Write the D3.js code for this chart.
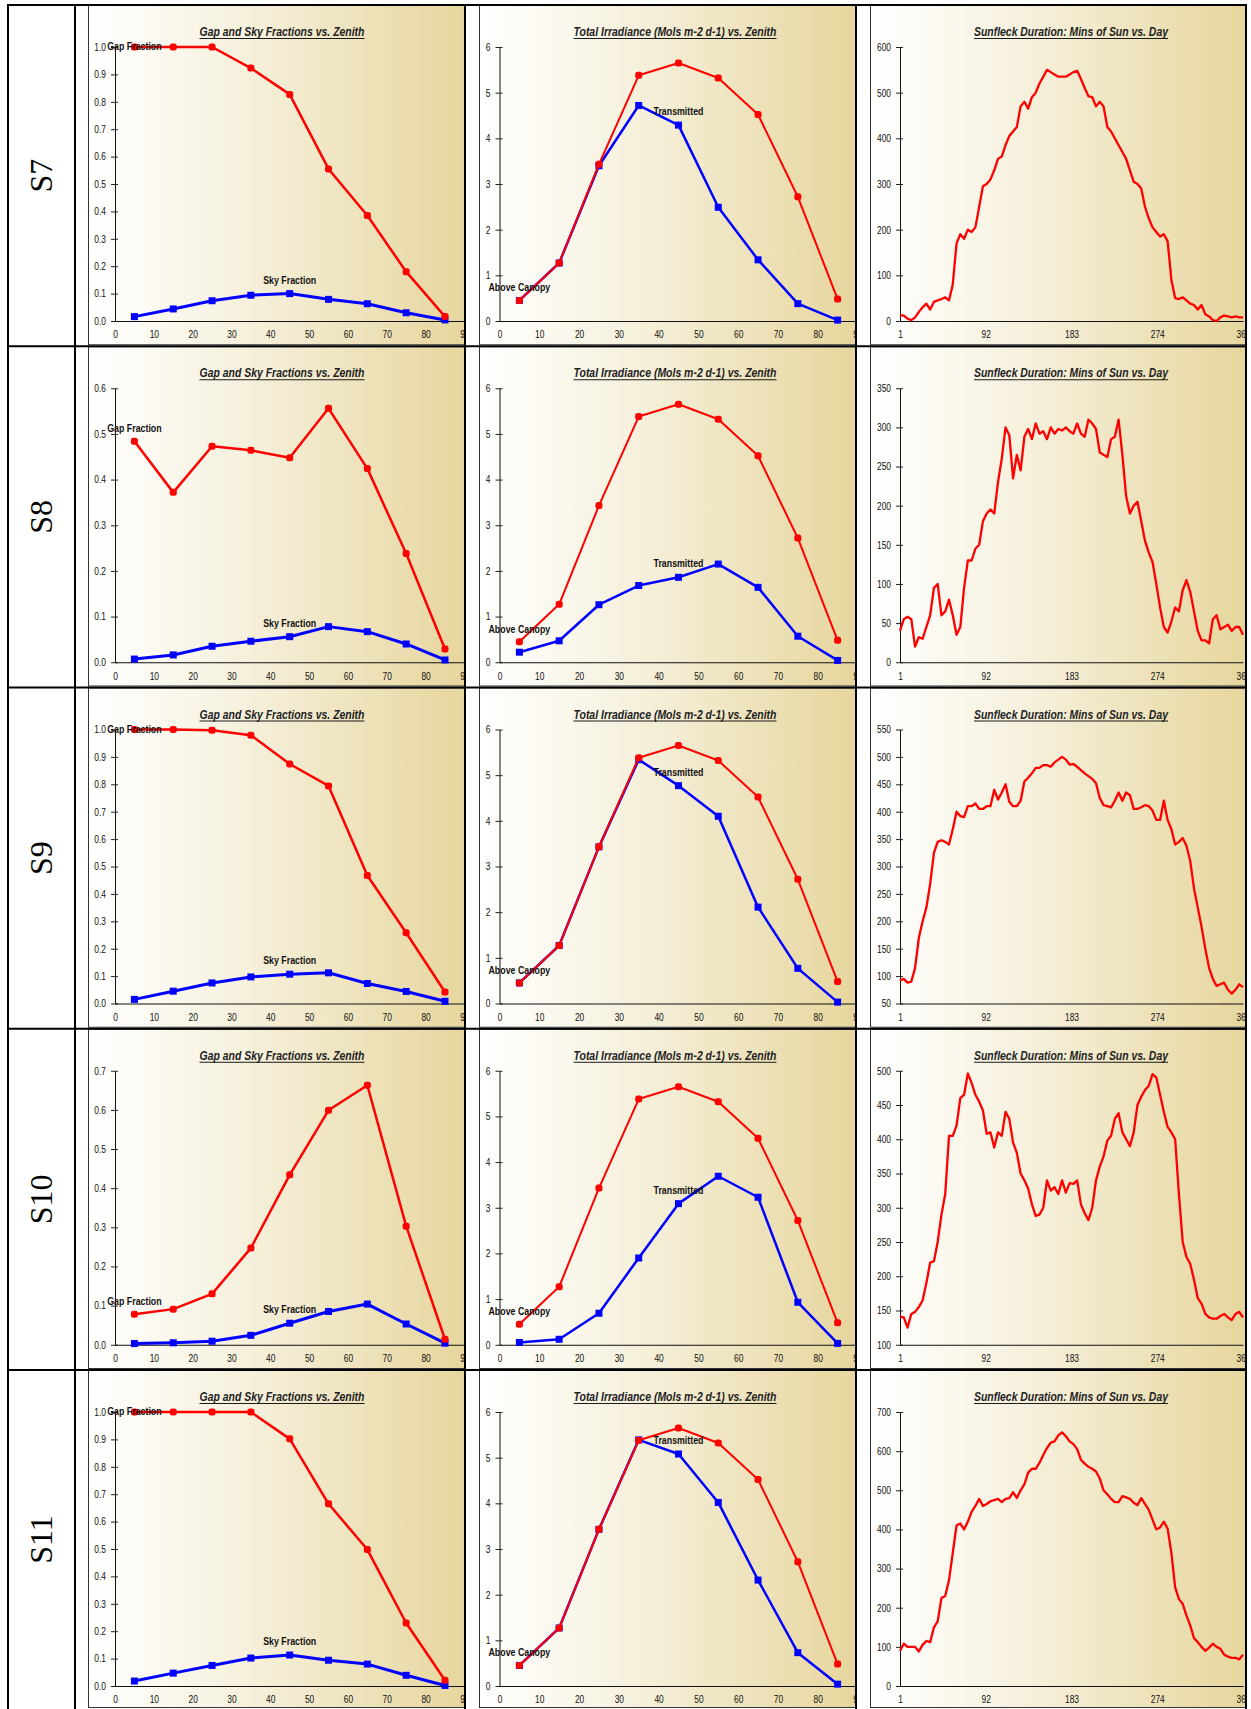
<!DOCTYPE html>
<html>
<head>
<meta charset="utf-8">
<script src="https://cdn.jsdelivr.net/npm/d3@7"></script>
<style>
  body { margin: 0; background: #fff; }
  text { font-family: "Liberation Sans", Arial, sans-serif; }
</style>
</head>
<body>
<div id="chart"></div>
<script>
// ---- data ----
const sites = ["S7", "S8", "S9", "S10", "S11"];
const zenith = [5, 15, 25, 35, 45, 55, 65, 75, 85];
const zenithTicks = [0, 10, 20, 30, 40, 50, 60, 70, 80, 90];
const dayTicks = [1, 92, 183, 274, 365];

const gapS7 = [1.0, 1.0, 1.0, 0.923, 0.827, 0.555, 0.385, 0.18, 0.016];
const gapS8 = [0.484, 0.372, 0.473, 0.464, 0.448, 0.556, 0.424, 0.238, 0.029];
const gapS9 = [1.0, 1.0, 0.997, 0.979, 0.874, 0.794, 0.467, 0.258, 0.042];
const gapS10 = [0.078, 0.091, 0.130, 0.247, 0.434, 0.599, 0.663, 0.303, 0.014];
const gapS11 = [1.0, 1.0, 1.0, 1.0, 0.902, 0.665, 0.498, 0.23, 0.021];

const skyS7 = [0.016, 0.044, 0.074, 0.094, 0.100, 0.079, 0.063, 0.030, 0.004];
const skyS8 = [0.007, 0.016, 0.035, 0.046, 0.056, 0.078, 0.067, 0.040, 0.005];
const skyS9 = [0.015, 0.045, 0.075, 0.097, 0.107, 0.112, 0.073, 0.044, 0.008];
const skyS10 = [0.003, 0.005, 0.009, 0.024, 0.055, 0.085, 0.104, 0.053, 0.004];
const skyS11 = [0.018, 0.047, 0.075, 0.102, 0.113, 0.094, 0.080, 0.039, 0.002];

const aboveCanopy = [0.45, 1.27, 3.43, 5.38, 5.65, 5.32, 4.52, 2.72, 0.48];
const transS7 = [0.45, 1.27, 3.40, 4.72, 4.29, 2.49, 1.34, 0.38, 0.02];
const transS8 = [0.22, 0.47, 1.26, 1.68, 1.86, 2.15, 1.64, 0.57, 0.04];
const transS9 = [0.45, 1.27, 3.43, 5.34, 4.77, 4.10, 2.11, 0.77, 0.03];
const transS10 = [0.05, 0.12, 0.69, 1.90, 3.09, 3.69, 3.23, 0.93, 0.03];
const transS11 = [0.45, 1.27, 3.43, 5.39, 5.08, 4.02, 2.32, 0.73, 0.04];

// sunfleck minutes, every 4th day (1, 5, 9, ... 365)
const sunS7 = [
  13, 12, 5, 2, 8, 20, 30, 38, 25, 42,
  45, 48, 52, 45, 80, 170, 190, 180, 200, 195,
  205, 250, 295, 300, 310, 330, 355, 360, 385, 405,
  415, 425, 470, 480, 465, 490, 500, 520, 535, 550,
  545, 540, 535, 535, 535, 540, 545, 548, 530, 510,
  492, 490, 470, 480, 470, 425, 415, 400, 385, 370,
  355, 330, 305, 300, 290, 250, 225, 205, 195, 185,
  190, 175, 90, 50, 48, 52, 45, 38, 35, 25,
  35, 15, 10, 2, 0, 8, 12, 10, 8, 10,
  8, 8];
const sunS8 = [
  40, 55, 58, 55, 20, 32, 30, 45, 60, 95,
  100, 60, 65, 80, 60, 35, 45, 95, 130, 130,
  145, 150, 180, 190, 195, 190, 230, 260, 300, 290,
  235, 265, 245, 288, 298, 285, 305, 292, 295, 285,
  300, 292, 298, 296, 300, 295, 292, 305, 292, 288,
  310, 305, 298, 268, 265, 262, 285, 288, 310, 265,
  212, 190, 200, 205, 180, 155, 140, 128, 100, 70,
  45, 38, 52, 70, 65, 92, 105, 90, 65, 40,
  28, 28, 24, 55, 60, 42, 45, 48, 40, 45,
  45, 35];
const sunS9 = [
  92, 95, 88, 90, 115, 170, 200, 225, 268, 325,
  345, 348, 345, 340, 368, 400, 392, 390, 410, 410,
  415, 405, 405, 410, 410, 440, 422, 435, 450, 418,
  410, 410, 420, 455, 462, 470, 480, 480, 485, 485,
  482, 490, 495, 500, 495, 486, 487, 482, 476, 470,
  465, 460, 452, 425, 412, 410, 408, 420, 435, 420,
  435, 430, 405, 405, 408, 412, 410, 402, 385, 385,
  420, 385, 368, 340, 345, 352, 338, 310, 260, 225,
  190, 150, 115, 95, 82, 85, 88, 75, 68, 75,
  85, 80];
const sunS10 = [
  141, 140, 125, 145, 148, 155, 165, 190, 220, 222,
  250, 290, 320, 405, 405, 420, 460, 465, 496, 482,
  465, 455, 442, 408, 410, 388, 410, 405, 440, 430,
  395, 380, 350, 340, 328, 305, 288, 290, 300, 340,
  325, 330, 320, 340, 322, 336, 335, 340, 305, 292,
  282, 300, 340, 360, 375, 398, 405, 430, 438, 410,
  400, 390, 410, 450, 462, 472, 478, 495, 490, 465,
  440, 418, 410, 400, 320, 250, 228, 218, 195, 168,
  160, 145, 140, 138, 138, 142, 145, 140, 136, 145,
  148, 140];
const sunS11 = [
  90, 108, 100, 100, 100, 88, 105, 115, 112, 150,
  165, 225, 230, 270, 340, 410, 415, 400, 420, 445,
  460, 478, 460, 465, 472, 475, 478, 470, 478, 480,
  495, 480, 500, 515, 545, 555, 555, 570, 590, 608,
  622, 625, 640, 648, 638, 625, 618, 605, 578, 568,
  560, 555, 548, 530, 500, 490, 478, 470, 470, 485,
  482, 478, 468, 462, 480, 465, 450, 425, 400, 405,
  420, 402, 340, 252, 222, 210, 180, 155, 122, 112,
  100, 90, 98, 108, 100, 95, 80, 75, 72, 72,
  68, 80];

const gapSeries = [gapS7, gapS8, gapS9, gapS10, gapS11];
const skySeries = [skyS7, skyS8, skyS9, skyS10, skyS11];
const transSeries = [transS7, transS8, transS9, transS10, transS11];
const sunSeries = [sunS7, sunS8, sunS9, sunS10, sunS11];
const gapMax = [1.0, 0.6, 1.0, 0.7, 1.0];
const sunDomain = [[0, 600], [0, 350], [50, 550], [100, 500], [0, 700]];
const sunStep = [100, 50, 50, 50, 100];
const days = d3.range(1, 366, 4);

// ---- layout ----
const W = 1251, H = 1709;
const rowH = 341.25;
const tableLeft = 8, tableRight = 1246, labelSep = 75;
const cols = [
  { left: 88, axisX: 115, x1: 464.4, right: 464, titleX: 282, titleW: 165,
    title: "Gap and Sky Fractions vs. Zenith" },
  { left: 479, axisX: 499.5, x1: 857.5, right: 855, titleX: 675, titleW: 203,
    title: "Total Irradiance (Mols m-2 d-1) vs. Zenith" },
  { left: 870, axisX: 900, x1: 1243, right: 1245, titleX: 1071, titleW: 194,
    title: "Sunfleck Duration: Mins of Sun vs. Day" }
];

const svg = d3.select("#chart").append("svg")
  .attr("width", W).attr("height", H);
const defs = svg.append("defs");
const grad = defs.append("linearGradient").attr("id", "bg");
grad.selectAll("stop")
  .data([["0%", "#ffffff"], ["45%", "#f5efd9"], ["100%", "#e6d59c"]])
  .join("stop")
  .attr("offset", d => d[0])
  .attr("stop-color", d => d[1]);

// squeeze text horizontally to mimic a narrow face
function squeeze(sel, k) {
  sel.each(function() {
    const w = this.getComputedTextLength();
    d3.select(this).attr("textLength", w * k).attr("lengthAdjust", "spacingAndGlyphs");
  });
}

function styleAxis(g) {
  g.selectAll("text")
    .attr("font-size", 10.5)
    .attr("fill", "#111")
    .call(squeeze, 0.8);
  g.select(".domain").attr("stroke", "#111");
}

function yAxis(g, y, ticks, fmt) {
  g.call(d3.axisLeft(y).tickValues(ticks).tickFormat(fmt)
      .tickSizeInner(4).tickSizeOuter(0).tickPadding(5));
  g.selectAll(".tick line").attr("x1", 3).attr("stroke", "#222");
  styleAxis(g);
}

function xAxis(g, x, ticks) {
  g.call(d3.axisBottom(x).tickValues(ticks).tickSize(0).tickPadding(10));
  styleAxis(g);
}

function label(g, text, x, y) {
  g.append("text")
    .attr("x", x).attr("y", y)
    .attr("text-anchor", "middle")
    .attr("dominant-baseline", "central")
    .attr("font-size", 10.5)
    .attr("font-weight", "bold")
    .attr("fill", "#111")
    .text(text)
    .call(squeeze, 0.84);
}

function drawSeries(g, x, y, values, color, width, shape) {
  const line = d3.line().x((d, j) => x(zenith[j])).y(d => y(d));
  g.append("path")
    .attr("d", line(values))
    .attr("fill", "none")
    .attr("stroke", color)
    .attr("stroke-width", width)
    .attr("stroke-linejoin", "round");
  g.selectAll(null).data(values).join("rect")
    .attr("x", (d, j) => x(zenith[j]) - 3.5)
    .attr("y", d => y(d) - 3.5)
    .attr("width", 7).attr("height", 7)
    .attr("rx", shape === "round" ? 2.5 : 0)
    .attr("fill", color);
}

sites.forEach((site, i) => {
  const rowTop = 5 + i * rowH;
  const rowBottom = i < sites.length - 1 ? rowTop + rowH : H;
  const plotTop = rowTop + 42, plotBottom = rowTop + 316;

  // row label
  svg.append("text")
    .attr("transform", `translate(41,${(rowTop + rowBottom) / 2}) rotate(-90)`)
    .attr("text-anchor", "middle")
    .attr("dominant-baseline", "central")
    .style("font-family", "'Liberation Serif', 'Times New Roman', serif")
    .attr("font-size", 32)
    .text(site);

  cols.forEach((c, k) => {
    const clipId = `clip-${i}-${k}`;
    defs.append("clipPath").attr("id", clipId)
      .append("rect")
      .attr("x", c.left - 1).attr("y", rowTop)
      .attr("width", c.right - c.left + 1).attr("height", rowBottom - rowTop);

    const g = svg.append("g").attr("clip-path", `url(#${clipId})`);
    g.append("rect")
      .attr("x", c.left + 0.5).attr("y", rowTop + 0.5)
      .attr("width", c.right - c.left + 4).attr("height", rowBottom - rowTop - 2)
      .attr("fill", "url(#bg)")
      .attr("stroke", "#333").attr("stroke-width", 1);

    // title
    g.append("text")
      .attr("x", c.titleX).attr("y", rowTop + 31)
      .attr("text-anchor", "middle")
      .attr("font-size", 12.5)
      .attr("font-style", "italic")
      .attr("font-weight", "bold")
      .attr("fill", "#222")
      .attr("textLength", c.titleW)
      .attr("lengthAdjust", "spacingAndGlyphs")
      .text(c.title);
    g.append("line")
      .attr("x1", c.titleX - c.titleW / 2).attr("x2", c.titleX + c.titleW / 2)
      .attr("y1", rowTop + 33.5).attr("y2", rowTop + 33.5)
      .attr("stroke", "#1a1a1a").attr("stroke-width", 1);

    if (k === 2) {
      const x = d3.scaleLinear().domain([1, 365]).range([c.axisX, c.x1]);
      const y = d3.scaleLinear().domain(sunDomain[i]).range([plotBottom, plotTop]);
      const dom = sunDomain[i];
      g.append("g").attr("transform", `translate(${c.axisX},0)`)
        .call(yAxis, y, d3.range(dom[0], dom[1] + 1, sunStep[i]), d3.format("d"));
      g.append("g").attr("transform", `translate(0,${plotBottom})`)
        .call(xAxis, x, dayTicks);
      g.append("path")
        .attr("d", d3.line().x((d, j) => x(days[j])).y(d => y(d))(sunSeries[i]))
        .attr("fill", "none")
        .attr("stroke", "#ff0000")
        .attr("stroke-width", 2.3)
        .attr("stroke-linejoin", "round");
      return;
    }

    const x = d3.scaleLinear().domain([0, 90]).range([c.axisX, c.x1]);
    const ymax = k === 0 ? gapMax[i] : 6;
    const y = d3.scaleLinear().domain([0, ymax]).range([plotBottom, plotTop]);
    const yt = k === 0 ? d3.range(0, Math.round(ymax * 10) + 1).map(v => v / 10) : d3.range(0, 7);
    g.append("g").attr("transform", `translate(${c.axisX},0)`)
      .call(yAxis, y, yt, k === 0 ? d3.format(".1f") : d3.format("d"));
    g.append("g").attr("transform", `translate(0,${plotBottom})`)
      .call(xAxis, x, zenithTicks);

    const blue = k === 0 ? skySeries[i] : transSeries[i];
    const red = k === 0 ? gapSeries[i] : aboveCanopy;
    drawSeries(g, x, y, blue, "#0000ff", k === 0 ? 3 : 2.5, "square");
    drawSeries(g, x, y, red, "#ff0000", k === 0 ? 2.5 : 2, "round");

    const redName = k === 0 ? "Gap Fraction" : "Above Canopy";
    const blueName = k === 0 ? "Sky Fraction" : "Transmitted";
    label(g, redName, x(zenith[0]), Math.max(y(red[0]) - 13, plotTop - 1));
    label(g, blueName, x(zenith[4]), Math.max(y(blue[4]) - 14, plotTop - 1));
  });
});

// table rules
const rules = svg.append("g").attr("stroke", "#000").attr("stroke-width", 2);
sites.forEach((s, i) => {
  const yy = 5 + i * rowH;
  rules.append("line").attr("x1", tableLeft - 1).attr("x2", tableRight + 1).attr("y1", yy).attr("y2", yy);
});
[tableLeft, labelSep, 465, 856, tableRight].forEach(xx => {
  rules.append("line").attr("x1", xx).attr("x2", xx).attr("y1", 4).attr("y2", H);
});
</script>
</body>
</html>
